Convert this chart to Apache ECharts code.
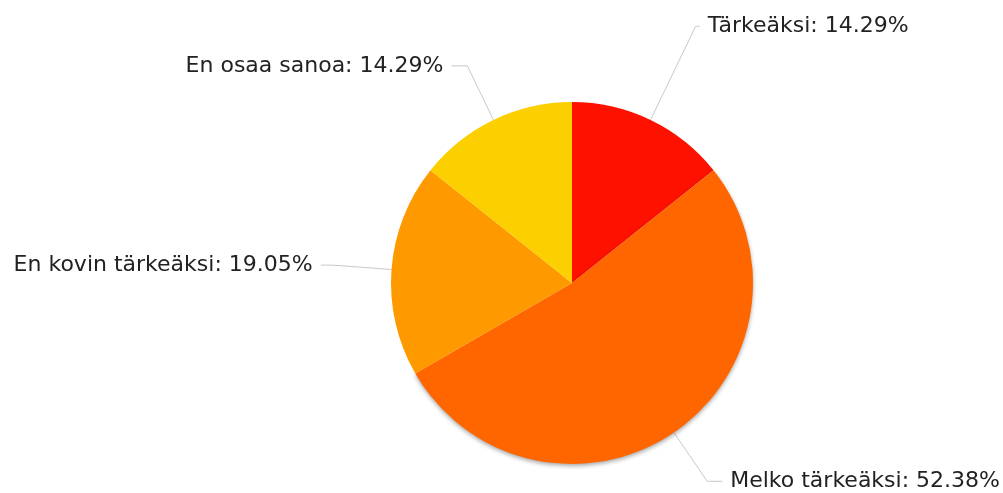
<!DOCTYPE html>
<html>
<head>
<meta charset="utf-8">
<script src="https://cdn.jsdelivr.net/npm/echarts@6/dist/echarts.min.js"></script>
<style>
  html, body { margin: 0; padding: 0; background: #fff; }
  #chart { width: 1003px; height: 493px; }
</style>
</head>
<body>
<div id="chart"></div>
<script>
var myChart = echarts.init(document.getElementById('chart'));

var categories = ['Tärkeäksi', 'Melko tärkeäksi', 'En kovin tärkeäksi', 'En osaa sanoa'];
var percents = [14.29, 52.38, 19.05, 14.29];
var colors = ['#ff1100', '#ff6600', '#ff9900', '#fbcf00'];
// viivojen pituudet per siivu
var lineLengths = [104, 59, 59, 60];
var lineLengths2 = [4, 15, 12, 16];

var pieData = categories.map(function (name, i) {
    var item = {
        name: name,
        value: percents[i],
        itemStyle: { color: colors[i] },
        labelLine: { length: lineLengths[i], length2: lineLengths2[i] }
    };
    if (i === 1) {
        // varjo alareunaan
        item.itemStyle.shadowBlur = 4;
        item.itemStyle.shadowOffsetY = 2;
        item.itemStyle.shadowColor = 'rgba(0,0,0,0.35)';
    }
    return item;
});

myChart.setOption({
    animation: false,
    series: [
        {
            type: 'pie',
            center: [572, 283],
            radius: 181,
            startAngle: 90,
            clockwise: true,
            avoidLabelOverlap: false,
            data: pieData,
            label: {
                show: true,
                formatter: function (p) { return p.name + ': ' + p.value.toFixed(2) + '%'; },
                fontFamily: 'DejaVu Sans',
                fontSize: 22,
                color: '#222',
                overflow: 'none',
                distanceToLabelLine: 8
            },
            labelLine: {
                show: true,
                lineStyle: { color: '#c8c8c8', width: 1 }
            },
            emphasis: { disabled: true }
        }
    ]
});
</script>
</body>
</html>
